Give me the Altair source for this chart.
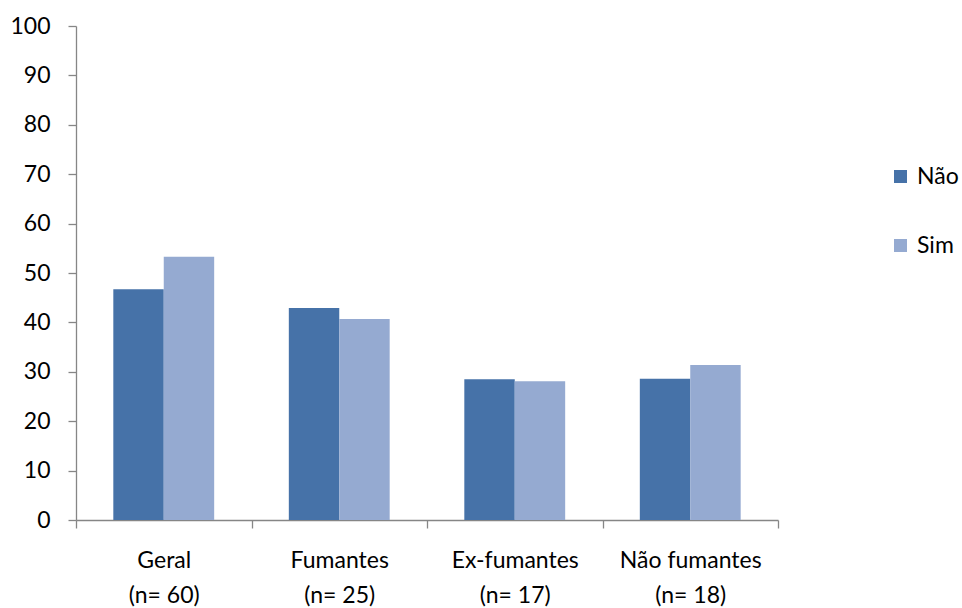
import altair as alt
import pandas as pd

# Groups and their sample sizes
grupos = ["Geral", "Fumantes", "Ex-fumantes", "Não fumantes"]
amostras = ["(n= 60)", "(n= 25)", "(n= 17)", "(n= 18)"]

# Percentages per answer
respostas = ["Não", "Sim"]
valores_nao = [46.7, 42.9, 28.5, 28.6]
valores_sim = [53.3, 40.7, 28.1, 31.4]

cores = ["#4672A8", "#95AAD1"]

rotulos = [f"{g}\n{n}" for g, n in zip(grupos, amostras)]
linhas = []
for rot, vn, vs in zip(rotulos, valores_nao, valores_sim):
    linhas.append({"grupo": rot, "resposta": "Não", "valor": vn})
    linhas.append({"grupo": rot, "resposta": "Sim", "valor": vs})
df = pd.DataFrame(linhas)

FONT = "Lato"
FS = 23
W, H = 702, 494

barras = alt.Chart(df).mark_bar().encode(
    x=alt.X(
        "grupo:N",
        sort=rotulos,
        title=None,
        scale=alt.Scale(paddingInner=0, paddingOuter=0),
        axis=alt.Axis(
            tickBand="extent",
            labelExpr="split(datum.label, '\\n')",
            labelAngle=0,
            labelFontSize=FS,
            labelFont=FONT,
            labelColor="#000000",
            labelLineHeight=35,
            labelPadding=21,
            tickSize=8,
            tickColor="#868686",
            domainColor="#868686",
            domainWidth=1.3,
            tickWidth=1.3,
        ),
    ),
    xOffset=alt.XOffset(
        "resposta:N",
        sort=respostas,
        scale=alt.Scale(paddingInner=0, paddingOuter=0.74),
    ),
    y=alt.Y(
        "valor:Q",
        title=None,
        scale=alt.Scale(domain=[0, 100], nice=False),
        axis=alt.Axis(
            values=list(range(0, 101, 10)),
            grid=False,
            labelFontSize=FS,
            labelFont=FONT,
            labelColor="#000000",
            labelPadding=18,
            tickSize=8,
            tickColor="#868686",
            domainColor="#868686",
            domainWidth=1.3,
            tickWidth=1.3,
        ),
    ),
    color=alt.Color(
        "resposta:N",
        sort=respostas,
        scale=alt.Scale(domain=respostas, range=cores),
        legend=alt.Legend(
            title=None,
            orient="none",
            legendX=813,
            legendY=139,
            symbolType="square",
            symbolSize=169,
            symbolStrokeWidth=0,
            labelFontSize=FS,
            labelFont=FONT,
            labelColor="#000000",
            labelOffset=5,
            rowPadding=45,
        ),
    ),
)

chart = barras.properties(
    width=W,
    height=H,
    background="white",
    autosize=alt.AutoSizeParams(type="none"),
    padding={"left": 76, "top": 26, "right": 184, "bottom": 88},
).configure_view(stroke=None)

chart.save("out.html", embed_options={"renderer": "svg", "actions": False})
